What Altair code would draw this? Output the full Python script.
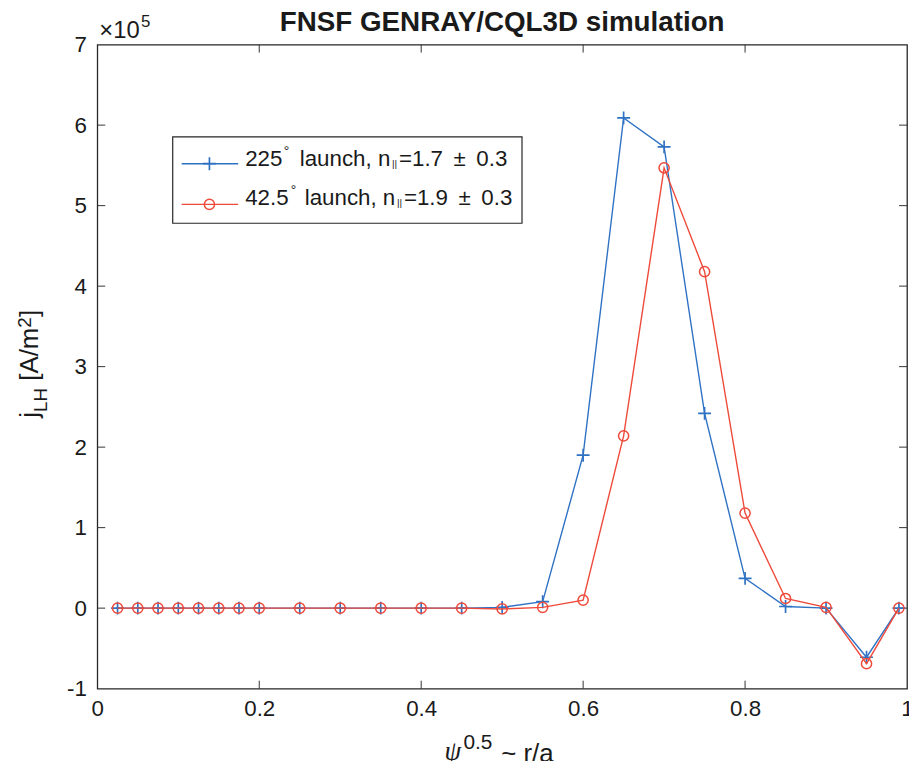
import altair as alt
import pandas as pd

# ---------------- data (j_LH in units of 1e5 A/m^2) ----------------
psi = [0.025, 0.05, 0.075, 0.1, 0.125, 0.15, 0.175, 0.2, 0.25, 0.3, 0.35, 0.4,
       0.45, 0.5, 0.55, 0.6, 0.65, 0.7, 0.75, 0.8, 0.85, 0.9, 0.95, 0.99]
j_225 = [0, 0, 0, 0, 0, 0, 0, 0, 0, 0, 0, 0,
         0, 0.01, 0.08, 1.90, 6.09, 5.73, 2.42, 0.37, 0.02, 0.0, -0.61, 0.0]
j_425 = [0, 0, 0, 0, 0, 0, 0, 0, 0, 0, 0, 0,
         0, -0.01, 0.01, 0.10, 2.14, 5.47, 4.18, 1.18, 0.12, 0.01, -0.69, 0.0]
x_ticks = [0, 0.2, 0.4, 0.6, 0.8, 1]
y_ticks = [-1, 0, 1, 2, 3, 4, 5, 6, 7]

BLUE = "#2f72c4"
RED = "#ee4a3a"
INK = "#1a1a1a"
FONT = "Liberation Sans"
W, H = 816, 649
OX, OY = 98, 42  # plot origin in page pixels

df_b = pd.DataFrame({"psi": psi, "j": j_225})
df_r = pd.DataFrame({"psi": psi, "j": j_425})

xscale = alt.Scale(domain=[0, 1], nice=False, zero=False)
yscale = alt.Scale(domain=[-1, 7], nice=False, zero=False)
xaxis = alt.Axis(values=x_ticks, ticks=False, domain=False, grid=False, title=None,
                 labelFontSize=22.5, labelFont=FONT, labelColor=INK, labelPadding=9,
                 labelFlush=False, labelOverlap=False, labelExpr="'' + datum.value")
yaxis = alt.Axis(values=y_ticks, ticks=False, domain=False, grid=False, title=None,
                 labelFontSize=22.5, labelFont=FONT, labelColor=INK, labelPadding=11,
                 labelFlush=False, labelOverlap=False, labelExpr="'' + datum.value")

def X(field):
    return alt.X(field, type="quantitative", scale=xscale, axis=xaxis)

def Y(field):
    return alt.Y(field, type="quantitative", scale=yscale, axis=yaxis)

PLUS = "M-1,0L1,0M0,-1L0,1"

base_b = alt.Chart(df_b).encode(x=X("psi"), y=Y("j"))
base_r = alt.Chart(df_r).encode(x=X("psi"), y=Y("j"))
line_b = base_b.mark_line(color=BLUE, strokeWidth=1.4)
pts_b = base_b.mark_point(shape=PLUS, size=169, filled=False, color=BLUE, strokeWidth=1.7, opacity=1)
line_r = base_r.mark_line(color=RED, strokeWidth=1.4)
pts_r = base_r.mark_point(shape="circle", size=105, filled=False, color=RED, strokeWidth=1.5, opacity=1)

# inward ticks (MATLAB box style)
xt = pd.DataFrame({"t": x_ticks[1:-1]})
yt = pd.DataFrame({"t": y_ticks[1:-1]})
tick_style = dict(color="#333333", strokeWidth=1)
ticks = [
    alt.Chart(xt).mark_rule(**tick_style).encode(x=X("t"), y=alt.value(H), y2=alt.value(H - 8)),
    alt.Chart(xt).mark_rule(**tick_style).encode(x=X("t"), y=alt.value(0), y2=alt.value(8)),
    alt.Chart(yt).mark_rule(**tick_style).encode(y=Y("t"), x=alt.value(0), x2=alt.value(8)),
    alt.Chart(yt).mark_rule(**tick_style).encode(y=Y("t"), x=alt.value(W), x2=alt.value(W - 8)),
]

dummy = alt.Data(values=[{}])

def txt(s, ax, ay, size=22.5, angle=0, weight="normal", style="normal", font=FONT, align="left"):
    return alt.Chart(dummy).mark_text(
        text=s, fontSize=size, font=font, color=INK, align=align, baseline="alphabetic",
        angle=angle, fontWeight=weight, fontStyle=style
    ).encode(x=alt.value(ax - OX), y=alt.value(ay - OY))

# legend box
legend_box = alt.Chart(dummy).mark_rect(fill="white", stroke="#262626", strokeWidth=1.2).encode(
    x=alt.value(174 - OX), x2=alt.value(526 - OX), y=alt.value(135 - OY), y2=alt.value(222 - OY))
leg = [legend_box]
for (ly, col, shp, sz, sw) in [(162, BLUE, PLUS, 169, 1.7), (203, RED, "circle", 105, 1.5)]:
    leg.append(alt.Chart(dummy).mark_rule(color=col, strokeWidth=1.4).encode(
        x=alt.value(183 - OX), x2=alt.value(240 - OX), y=alt.value(ly - OY)))
    leg.append(alt.Chart(dummy).mark_point(shape=shp, size=sz, filled=False, color=col,
                                            strokeWidth=sw, opacity=1).encode(
        x=alt.value(211 - OX), y=alt.value(ly - OY)))

rows = [
    (164, "225", 286, 302, 395, "=1.7", 457, 480),
    (204, "42.5", 293, 307, 400, "=1.9", 462, 485),
]
for (bl, num, xdeg, xl, xsub, eq, xpm, x03) in rows:
    leg += [
        txt(num, 247, bl),
        txt("°", xdeg, bl - 10, size=14),
        txt("launch, n", xl, bl),
        txt("||", xsub, bl + 1, size=10),
        txt(eq, xsub + 7, bl),
        txt("±", xpm, bl),
        txt("0.3", x03, bl),
    ]

# titles
texts = [
    txt("FNSF GENRAY/CQL3D simulation", 506, 28, size=28, weight="bold", align="center"),
    txt("×10", 100, 35, size=24),
    txt("5", 142, 24, size=17),
    # y title  j_LH [A/m^2]  (rotated)
    txt("j", 38, 418, size=26, angle=270),
    txt("LH", 47, 412.2, size=19, angle=270),
    txt("[A/m", 38, 380.7, size=26, angle=270),
    txt("2", 31, 327.2, size=19, angle=270),
    txt("]", 38, 316.6, size=26, angle=270),
    # x title  psi^0.5 ~ r/a
    txt("ψ", 448, 763, size=27, style="italic", font="Liberation Serif"),
    txt("0.5", 467, 752, size=21),
    txt("~ r/a", 505, 765, size=26),
]

chart = alt.layer(*ticks, line_b, pts_b, line_r, pts_r, *leg, *texts).properties(
    width=W, height=H,
    autosize=alt.AutoSizeParams(type="none"),
    padding={"left": OX - 8, "top": OY - 8, "right": 2, "bottom": 70},
    background="white",
).configure_view(stroke="#262626", strokeWidth=1.3)

chart.save("out.html", embed_options={"renderer": "svg", "actions": False})
